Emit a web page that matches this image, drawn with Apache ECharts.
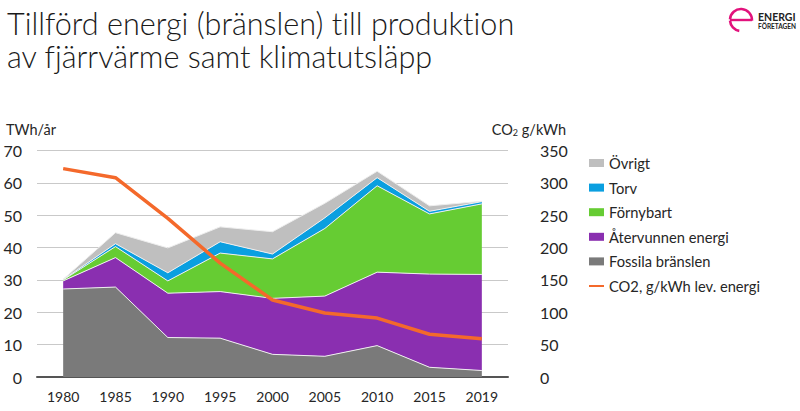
<!DOCTYPE html>
<html>
<head>
<meta charset="utf-8">
<style>
html, body { margin: 0; padding: 0; background: #fff; }
#chart { width: 800px; height: 411px; }
#chart text { font-variant-ligatures: none; }
</style>
<script src="https://cdn.jsdelivr.net/npm/echarts@6/dist/echarts.min.js"></script>
</head>
<body>
<div id="chart"></div>
<script>
var years = ['1980', '1985', '1990', '1995', '2000', '2005', '2010', '2015', '2019']
var fossila = [27.2, 27.8, 12.2, 12, 7, 6.4, 9.7, 3, 2]
var atervunnen = [2.5, 9.1, 13.7, 14.4, 17.3, 18.6, 22.7, 28.8, 29.7]
var fornybart = [0.3, 3.4, 3.8, 11.9, 12.2, 20.9, 26.7, 18.6, 21.8]
var torv = [0.1, 0.9, 2.5, 3.5, 1.5, 3.3, 2.5, 0.8, 0.7]
var ovrigt = [0.1, 3.4, 7.7, 4.6, 6.9, 4.5, 2, 1.7, 0.1]
var co2 = [322, 308, 245, 176, 119, 99, 91, 66, 59]

var font = 'Lato'
var textColor = '#262626'

function area(name, values, color) {
    return {
        name: name,
        type: 'line',
        stack: 'energi',
        data: values,
        showSymbol: false,
        itemStyle: {color: color},
        lineStyle: {color: '#eeeeee', width: 1},
        areaStyle: {color: color, opacity: 1}
    }
}

var chart = echarts.init(document.getElementById('chart'), null, {renderer: 'svg'})
chart.setOption({
    animation: false,
    backgroundColor: '#fff',
    textStyle: {fontFamily: font},
    title: {
        text: 'Tillförd energi (bränslen) till produktion\nav fjärrvärme samt klimatutsläpp',
        left: 2,
        top: 2,
        textStyle: {fontFamily: font, fontWeight: 300, fontSize: 30.6, lineHeight: 33, color: '#1a1a1a'}
    },
    grid: {left: 37, right: 292, top: 150.5, bottom: 34},
    legend: {
        orient: 'vertical',
        left: 588,
        top: 155.5,
        padding: 0,
        itemWidth: 15,
        itemHeight: 8,
        itemGap: 9.6,
        textStyle: {fontFamily: font, fontSize: 14.7, color: textColor},
        data: [
            {name: 'Övrigt', icon: 'rect'},
            {name: 'Torv', icon: 'rect'},
            {name: 'Förnybart', icon: 'rect'},
            {name: 'Återvunnen energi', icon: 'rect'},
            {name: 'Fossila bränslen', icon: 'rect'},
            {name: 'CO2, g/kWh lev. energi', itemStyle: {opacity: 0}}
        ]
    },
    xAxis: {
        type: 'category',
        data: years,
        boundaryGap: true,
        axisTick: {show: false},
        axisLine: {lineStyle: {color: '#555555', width: 2}},
        axisLabel: {color: textColor, fontSize: 14, margin: 12}
    },
    yAxis: [
        {
            type: 'value',
            min: 0,
            max: 70,
            interval: 10,
            name: 'TWh/år',
            nameGap: 14,
            nameTextStyle: {color: textColor, fontSize: 14.5, align: 'left', padding: [0, 0, 0, -31]},
            axisLine: {show: false},
            axisTick: {show: false},
            axisLabel: {color: textColor, fontSize: 16, margin: 15},
            splitLine: {lineStyle: {color: '#c9c9c9', width: 1}}
        },
        {
            type: 'value',
            min: 0,
            max: 350,
            interval: 50,
            position: 'right',
            name: 'CO{sub|2} g/kWh',
            nameGap: 14,
            nameTextStyle: {
                color: textColor,
                fontSize: 14.5,
                align: 'right',
                padding: [0, -58, 0, 0],
                rich: {sub: {fontSize: 9, verticalAlign: 'bottom', padding: [6, 0, 0, 0], color: textColor}}
            },
            axisLine: {show: false},
            axisTick: {show: false},
            axisLabel: {color: textColor, fontSize: 16, margin: 32},
            splitLine: {show: false}
        }
    ],
    series: [
        area('Fossila bränslen', fossila, '#7a7a7a'),
        area('Återvunnen energi', atervunnen, '#8a2fb0'),
        area('Förnybart', fornybart, '#66cc33'),
        area('Torv', torv, '#0a9fe0'),
        area('Övrigt', ovrigt, '#bfbfbf'),
        {
            name: 'CO2, g/kWh lev. energi',
            type: 'line',
            yAxisIndex: 1,
            data: co2,
            symbol: 'none',
            z: 5,
            itemStyle: {color: '#f4692b'},
            lineStyle: {color: '#f4692b', width: 3.5}
        }
    ],
    graphic: [
        //logotyp
        {type: 'arc', shape: {cx: 741, cy: 20, r: 11, startAngle: Math.PI * 1.02, endAngle: Math.PI * 0.02}, style: {fill: 'none', stroke: '#e2127c', lineWidth: 2.6}},
        {type: 'line', shape: {x1: 730, y1: 20, x2: 752, y2: 20}, style: {stroke: '#e2127c', lineWidth: 2.4}},
        {type: 'arc', shape: {cx: 741, cy: 20, r: 11, startAngle: Math.PI * 0.55, endAngle: Math.PI * 0.98, clockwise: true}, style: {fill: 'none', stroke: '#e2127c', lineWidth: 2.6}},
        {type: 'text', left: 758, top: 11, style: {text: 'ENERGI', font: 'bold 10.5px Lato', fill: '#222222'}},
        {type: 'text', left: 758, top: 23, style: {text: 'FÖRETAGEN', font: 'bold 6.5px Lato', fill: '#222222'}}
    ]
})
</script>
</body>
</html>
